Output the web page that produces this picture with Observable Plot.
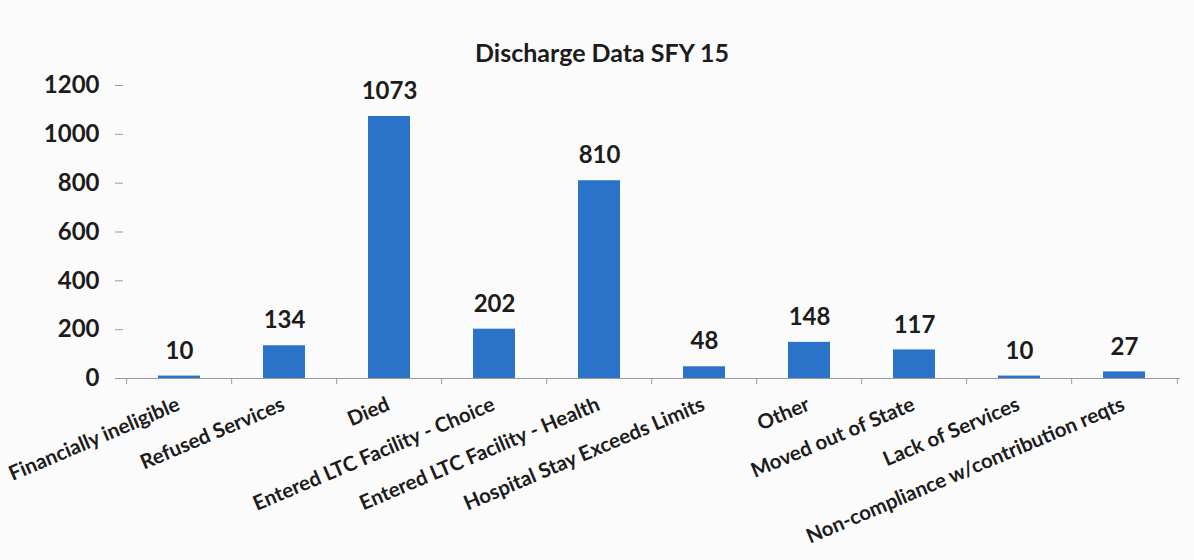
<!DOCTYPE html>
<html>
<head>
<meta charset="utf-8">
<script src="https://cdn.jsdelivr.net/npm/d3@7"></script>
<script src="https://cdn.jsdelivr.net/npm/@observablehq/plot@0.6"></script>
<style>
  html, body { margin: 0; padding: 0; background: #fbfbfb; }
  #wrap { width: 1194px; height: 560px; position: relative; font-family: Lato, "Open Sans", sans-serif; }
  #title { height: 70px; box-sizing: border-box; padding-top: 36px; text-align: center; font-weight: bold; font-size: 25px; color: #1c1c1c; line-height: 32px; padding-left: 10px; }
  #title span { display: inline-block; line-height: 32px; }
  svg text { font-family: Lato, "Open Sans", sans-serif; }
</style>
</head>
<body>
<div id="wrap">
  <div id="title"><span>Discharge Data SFY 15</span></div>
  <div id="chart"></div>
</div>
<script>
const categories = [
  "Financially ineligible",
  "Refused Services",
  "Died",
  "Entered LTC Facility - Choice",
  "Entered LTC Facility - Health",
  "Hospital Stay Exceeds Limits",
  "Other",
  "Moved out of State",
  "Lack of Services",
  "Non-compliance w/contribution reqts"
];
const values = [10, 134, 1073, 202, 810, 48, 148, 117, 10, 27];
const yTicks = [0, 200, 400, 600, 800, 1000, 1200];

const data = categories.map((c, i) => ({category: c, value: values[i]}));

const W = 1194, H = 490, mL = 123, mR = 14, mT = 15, mB = 182;
const step = (W - mL - mR) / categories.length;

const chart = Plot.plot({
  width: W, height: H,
  marginLeft: mL, marginRight: mR, marginTop: mT, marginBottom: mB,
  style: {background: "transparent", color: "#1c1c1c"},
  x: {domain: categories, paddingInner: 0.6, paddingOuter: 0.3, axis: null},
  y: {domain: [0, 1200], axis: null},
  marks: [
    Plot.barY(data, {x: "category", y: "value", fill: "#2b73c8"}),
    Plot.ruleY([0], {stroke: "#9a9a9a", strokeWidth: 1.2}),
    Plot.axisY({ticks: yTicks, tickSize: 8, tickPadding: 16, line: true, stroke: "#9a9a9a",
      label: null, tickFormat: d => String(d),
      fontSize: 24, fontWeight: "bold", fill: "#1c1c1c"}),
    Plot.axisX({ticks: categories, tickSize: 6, tickFormat: () => "", label: null, dx: -step / 2, stroke: "#9a9a9a"}),
    Plot.axisX({ticks: categories.slice(-1), tickSize: 6, tickFormat: () => "", label: null, dx: step / 2, stroke: "#9a9a9a"}),
    Plot.text(data, {x: "category", y: "value", text: d => String(d.value), dy: -25,
      fontSize: 24, fontWeight: "bold", fill: "#1c1c1c"}),
    Plot.text(categories, {x: d => d, frameAnchor: "bottom", rotate: -23, textAnchor: "end",
      lineAnchor: "middle", dy: 25, dx: -1, fontSize: 20.5, fontWeight: "bold", fill: "#1c1c1c"})
  ]
});
document.getElementById("chart").appendChild(chart);
</script>
</body>
</html>
